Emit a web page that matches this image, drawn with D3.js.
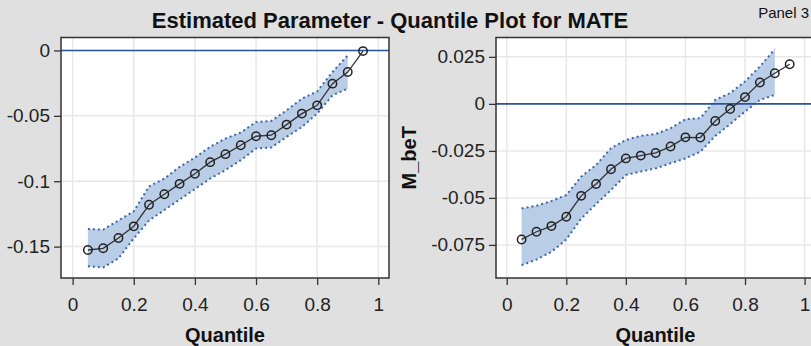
<!DOCTYPE html>
<html><head><meta charset="utf-8">
<script src="https://cdn.jsdelivr.net/npm/d3@7"></script>
<style>
html,body{margin:0;padding:0;background:#e0e0e0;}
svg{display:block;}
.tick-lab{font-family:"Liberation Sans Narrow","Arial Narrow","Liberation Sans",sans-serif;font-size:19px;fill:#222;}
</style></head>
<body>
<svg id="c" width="811" height="346"></svg>
<script>
const quantiles = [0.05,0.10,0.15,0.20,0.25,0.30,0.35,0.40,0.45,0.50,0.55,0.60,0.65,0.70,0.75,0.80,0.85,0.90,0.95];
const xTicks = [0,0.2,0.4,0.6,0.8,1];

// Panel left
const est1   = [-0.1526,-0.1513,-0.1434,-0.1345,-0.118,-0.110,-0.102,-0.0943,-0.0854,-0.0793,-0.0725,-0.0656,-0.0648,-0.0567,-0.0483,-0.042,-0.0254,-0.0165,-0.0005];
const upper1 = [-0.1365,-0.137,-0.130,-0.123,-0.104,-0.098,-0.089,-0.082,-0.0737,-0.0674,-0.0628,-0.0547,-0.0539,-0.0458,-0.0369,-0.0313,-0.0165,-0.0038,null];
const lower1 = [-0.165,-0.166,-0.159,-0.1437,-0.130,-0.122,-0.114,-0.106,-0.098,-0.0915,-0.0839,-0.075,-0.0742,-0.0661,-0.0585,-0.0483,-0.0343,-0.0292,null];
const yTicks1 = [0,-0.05,-0.1,-0.15];
const yLabels1 = ["0","-0.05","-0.1","-0.15"];

// Panel right
const est2   = [-0.0721,-0.068,-0.065,-0.060,-0.0489,-0.0426,-0.0348,-0.029,-0.0275,-0.0261,-0.0227,-0.0178,-0.0179,-0.0091,-0.0027,0.0036,0.0114,0.0163,0.0211];
const upper2 = [-0.0556,-0.0542,-0.0517,-0.0485,-0.0387,-0.0325,-0.0236,-0.0192,-0.017,-0.016,-0.013,-0.0082,-0.0076,0.0021,0.0057,0.0119,0.0199,0.0291,null];
const lower2 = [-0.0858,-0.0828,-0.0787,-0.0721,-0.061,-0.0533,-0.0458,-0.0378,-0.036,-0.0343,-0.0316,-0.029,-0.0254,-0.0171,-0.0108,-0.0041,0.0021,0.0048,null];
const yTicks2 = [0.025,0,-0.025,-0.05,-0.075];
const yLabels2 = ["0.025","0","-0.025","-0.05","-0.075"];

const titleText = "Estimated Parameter - Quantile Plot for MATE";
const panelText = "Panel 3";
const xTitle = "Quantile";
const yTitle2 = "M_beT";

const svg = d3.select("#c");
svg.append("rect").attr("width",811).attr("height",346).attr("fill","#e0e0e0");

svg.append("text").attr("x",390).attr("y",28).attr("text-anchor","middle")
  .style("font-family","'Liberation Sans',Arial,sans-serif").style("font-weight","bold")
  .style("font-size","22px").attr("fill","#111").text(titleText);
svg.append("text").attr("x",809).attr("y",18).attr("text-anchor","end")
  .style("font-family","'Liberation Sans',Arial,sans-serif")
  .style("font-size","15px").attr("fill","#111").text(panelText);

function panel(cfg){
  const x = d3.scaleLinear().domain(cfg.xd).range([cfg.left,cfg.right]);
  const y = d3.scaleLinear().domain(cfg.yd).range([cfg.bottom,cfg.top]);
  const g = svg.append("g");
  g.append("rect").attr("x",cfg.left).attr("y",cfg.top).attr("width",cfg.right-cfg.left)
    .attr("height",cfg.bottom-cfg.top).attr("fill","#ffffff");
  g.selectAll(".gx").data(xTicks).enter().append("line")
    .attr("x1",d=>x(d)).attr("x2",d=>x(d)).attr("y1",cfg.top).attr("y2",cfg.bottom)
    .attr("stroke","#e8e8e8").attr("stroke-width",1.5);
  g.selectAll(".gy").data(cfg.yTicks).enter().append("line")
    .attr("x1",cfg.left).attr("x2",cfg.right).attr("y1",d=>y(d)).attr("y2",d=>y(d))
    .attr("stroke","#e8e8e8").attr("stroke-width",1.5);
  const data = quantiles.map((q,i)=>({q, e:cfg.est[i], u:cfg.up[i], l:cfg.lo[i]}));
  const bandData = data.filter(d=>d.u!=null && d.l!=null);
  g.append("path").datum(bandData)
    .attr("d",d3.area().x(d=>x(d.q)).y0(d=>y(d.l)).y1(d=>y(d.u)))
    .attr("fill","#b9cde6");
  ["u","l"].forEach(k=>{
    g.append("path").datum(bandData)
      .attr("d",d3.line().x(d=>x(d.q)).y(d=>y(d[k])))
      .attr("fill","none").attr("stroke","#3a66ad").attr("stroke-width",2)
      .attr("stroke-dasharray","2,3");
  });
  g.append("line").attr("x1",cfg.left).attr("x2",cfg.right).attr("y1",y(0)).attr("y2",y(0))
    .attr("stroke","#2b5597").attr("stroke-width",1.6);
  g.append("path").datum(data).attr("d",d3.line().x(d=>x(d.q)).y(d=>y(d.e)))
    .attr("fill","none").attr("stroke","#333").attr("stroke-width",1.3);
  g.selectAll(".pt").data(data).enter().append("circle")
    .attr("cx",d=>x(d.q)).attr("cy",d=>y(d.e)).attr("r",4.2)
    .attr("fill","none").attr("stroke","#222").attr("stroke-width",1.5);
  g.append("rect").attr("x",cfg.left).attr("y",cfg.top).attr("width",cfg.right-cfg.left)
    .attr("height",cfg.bottom-cfg.top).attr("fill","none").attr("stroke","#333").attr("stroke-width",1.5);
  const xa = d3.axisBottom(x).tickValues(xTicks).tickSize(7).tickPadding(4).tickFormat(d3.format("~g"));
  const gx = g.append("g").attr("transform",`translate(0,${cfg.bottom})`).call(xa);
  gx.select(".domain").remove();
  gx.attr("font-size",null).attr("font-family",null);
  gx.selectAll(".tick line").attr("stroke","#333").attr("stroke-width",1.3);
  gx.selectAll(".tick text").attr("class","tick-lab").attr("y",null).attr("dy",null)
    .attr("transform",`translate(0,${311-cfg.bottom})`).attr("fill","#222");
  const ya = d3.axisLeft(y).tickValues(cfg.yTicks).tickSize(7).tickPadding(4)
    .tickFormat((d,i)=>cfg.yLabels[i]);
  const gy = g.append("g").attr("transform",`translate(${cfg.left},0)`).call(ya);
  gy.select(".domain").remove();
  gy.attr("font-size",null).attr("font-family",null);
  gy.selectAll(".tick line").attr("stroke","#333").attr("stroke-width",1.3);
  gy.selectAll(".tick text").attr("class","tick-lab").attr("fill","#222");
  g.append("text").attr("x",(cfg.left+cfg.right)/2).attr("y",342).attr("text-anchor","middle")
    .style("font-family","'Liberation Sans',Arial,sans-serif").style("font-weight","bold")
    .style("font-size","20px").attr("fill","#111").text(xTitle);
  if(cfg.yTitle){
    g.append("text").attr("transform",`translate(416,${(cfg.top+cfg.bottom)/2}) rotate(-90)`)
      .attr("text-anchor","middle")
      .style("font-family","'Liberation Sans',Arial,sans-serif").style("font-weight","bold")
      .style("font-size","20px").attr("fill","#111").text(cfg.yTitle);
  }
}

panel({left:61,right:389,top:37.5,bottom:278,xd:[-0.038,1.035],yd:[-0.174,0.0099],
  est:est1,up:upper1,lo:lower1,yTicks:yTicks1,yLabels:yLabels1});
panel({left:496,right:815,top:37.5,bottom:278,xd:[-0.036,1.035],yd:[-0.0926,0.0353],
  est:est2,up:upper2,lo:lower2,yTicks:yTicks2,yLabels:yLabels2,yTitle:yTitle2});
</script>
</body></html>
